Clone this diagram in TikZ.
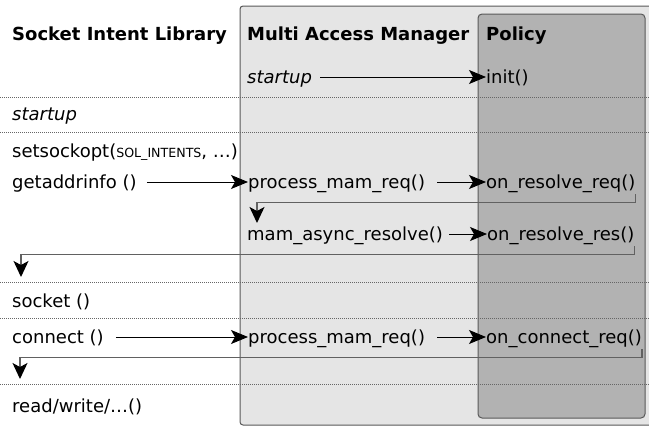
\documentclass[tikz,border=0pt]{standalone}
\usepackage{fontspec}
\setmainfont{DejaVu Sans}
\usetikzlibrary{arrows.meta}

\begin{document}
\begin{tikzpicture}[x=1pt, y=-1pt, >={Stealth[length=17pt,width=14pt,inset=4pt]},
 lbl/.style={anchor=base west, inner sep=0pt, text height=18pt, text depth=6pt, font=\fontsize{18}{21}\selectfont},
 head/.style={lbl, font=\fontsize{18}{21}\selectfont\bfseries},
 ital/.style={lbl, font=\fontsize{18}{21}\selectfont\itshape},
 call/.style={->, line width=.9pt, shorten <=10pt},
 back/.style={-{Stealth[length=16pt,width=15pt,inset=4pt,black]}, line width=1.3pt, draw=black!62},
 sep/.style={draw=black!60, line width=.6pt, dash pattern=on 1pt off 1pt},
 mambox/.style={draw=black!65, line width=1pt, fill=black!10, rounded corners=3pt},
 polbox/.style={draw=black!65, line width=1pt, fill=black!30, rounded corners=4pt}]
\useasboundingbox (0,0) rectangle (649,426);
\clip (0,0) rectangle (649,426);
% columns
\draw[mambox] (240,6) rectangle (700,425);
\draw[polbox] (478,14) rectangle (645,418);
\foreach \y in {97,132,282,318,384}
  \draw[sep] (0,\y) -- (649,\y);
% headers
\node[head] (silh) at (12,40) {Socket Intent Library};
\node[head] (mamh) at (247,40) {Multi Access Manager};
\node[head] (polh) at (486,40) {Policy};
% calls
\node[ital] (mamstart) at (247,83) {startup};
\node[lbl] (init) at (486,83) {init()};
\node[ital] (silstart) at (12,120) {startup};
\node[lbl] (sockopt) at (12,157) {setsockopt({\fontsize{12.6}{14}\selectfont SOL\_INTENTS}, …)};
\node[lbl] (gai) at (12,188) {getaddrinfo ()};
\node[lbl] (pmrA) at (248,188) {process\_mam\_req()};
\node[lbl] (rreq) at (486,188) {on\_resolve\_req()};
\coordinate (retA) at (257,223);
\node[lbl] (async) at (247,240) {mam\_async\_resolve()};
\node[lbl] (rres) at (487,240) {on\_resolve\_res()};
\coordinate (retB) at (21,277);
\node[lbl] (sock) at (12,307) {socket ()};
\node[lbl] (conn) at (12,343) {connect ()};
\node[lbl] (pmrB) at (248,343) {process\_mam\_req()};
\node[lbl] (creq) at (486,343) {on\_connect\_req()};
\coordinate (retC) at (20,379);
\node[lbl] (rw) at (12,412) {read/write/…()};
% arrows
\draw[call, shorten <=8pt] (mamstart) -- (init);
\draw[call] (gai) -- (pmrA);
\draw[call, shorten <=12pt] (pmrA) -- (rreq);
\draw[back] (rreq.south east) -- ++(0,8) -| (retA);
\draw[call, shorten <=6pt] (async) -- (rres);
\draw[back] (rres.south east) -- ++(0,8) -| (retB);
\draw[call, shorten <=12pt] (conn) -- (pmrB);
\draw[call, shorten <=12pt] (pmrB) -- (creq);
\draw[back] (creq.south east) -- ++(0,8) -| (retC);
\end{tikzpicture}
\end{document}
